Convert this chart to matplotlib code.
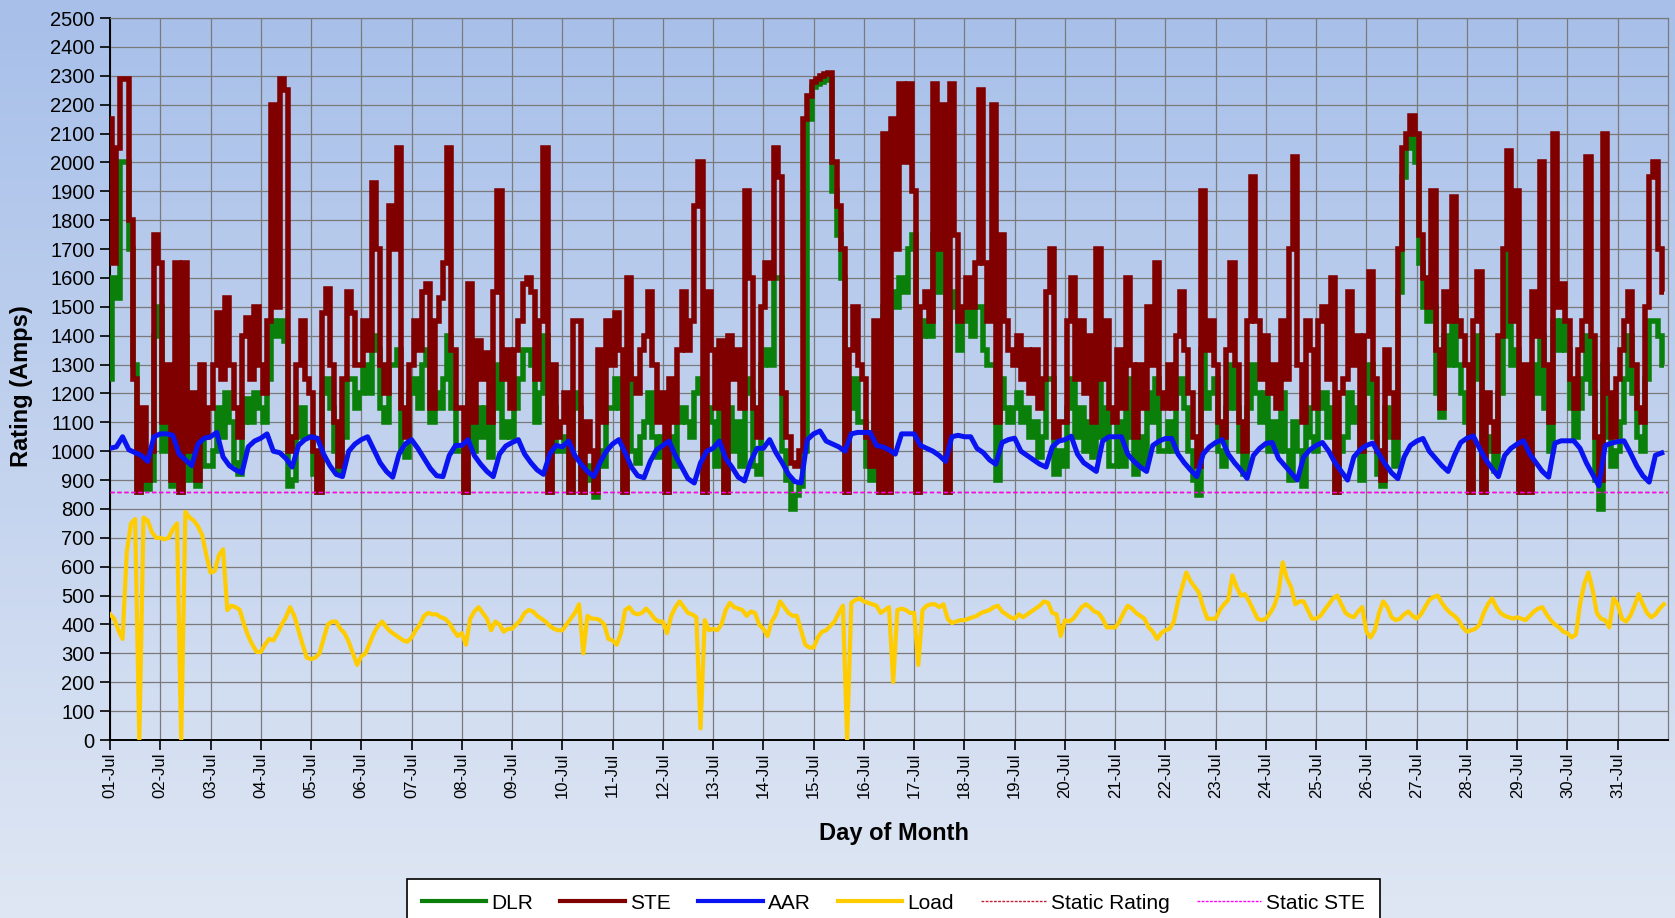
import numpy as np
import matplotlib
matplotlib.use("Agg")
import matplotlib.pyplot as plt
from matplotlib import font_manager
from matplotlib.lines import Line2D

# ---------------- data ----------------
day_labels = [f"{d:02d}-Jul" for d in range(1, 32)]

# STE rating, 2-hour samples (12 per day)
ste = [
    2150, 1650, 2050, 2290, 2290, 1800, 1250, 860, 1150, 900, 1000, 1750,
    1650, 1100, 1300, 900, 1650, 860, 1650, 1000, 1200, 900, 1300, 1050,
    1150, 1300, 1480, 1250, 1530, 1300, 1150, 1050, 1400, 1460, 1250, 1500,
    1300, 1200, 1450, 2200, 1500, 2290, 2250, 1000, 1050, 1300, 1450, 1250,
    1200, 1000, 860, 1480, 1560, 1300, 1100, 950, 1250, 1550, 1480, 1300,
    1300, 1450, 1350, 1930, 1700, 1300, 1200, 1850, 1700, 2050, 1150, 1050,
    1300, 1450, 1350, 1550, 1580, 1150, 1450, 1530, 1650, 2050, 1350, 1150,
    1150, 860, 1580, 1100, 1380, 1250, 1340, 1100, 1550, 1900, 1250, 1350,
    1150, 1350, 1450, 1580, 1600, 1550, 1250, 1450, 2050, 860, 1300, 1050,
    1100, 1200, 860, 1450, 1450, 860, 1100, 1000, 860, 1350, 1100, 1450,
    1300, 1480, 1350, 860, 1600, 1250, 1200, 1350, 1400, 1550, 1300, 1100,
    1200, 860, 1250, 1100, 1350, 1550, 1350, 1450, 1850, 2000, 860, 1550,
    1350, 1150, 1380, 860, 1400, 1250, 1350, 1150, 1900, 1600, 1150, 1050,
    1500, 1650, 1600, 2050, 1950, 1200, 1050, 960, 950, 1000, 2150, 2230,
    2280, 2290, 2300, 2305, 2310, 2000, 1850, 1700, 860, 1350, 1500, 1300,
    1250, 1050, 950, 1450, 860, 2100, 860, 2150, 1700, 2270, 2000, 2270,
    1900, 860, 1500, 1550, 1450, 2270, 1700, 2200, 860, 2270, 1750, 1450,
    1500, 1600, 1500, 1650, 2250, 1650, 1450, 2200, 1100, 1750, 1450, 1350,
    1300, 1400, 1250, 1350, 1200, 1350, 1150, 1250, 1550, 1700, 1050, 1100,
    1100, 1450, 1600, 1250, 1450, 1200, 1400, 1100, 1700, 1250, 1450, 1150,
    1100, 1350, 1150, 1600, 1300, 1050, 1300, 1150, 1500, 1300, 1650, 1200,
    1150, 1300, 1150, 1400, 1550, 1350, 1200, 1050, 950, 1900, 1350, 1450,
    1300, 1100, 1050, 1350, 1650, 1300, 1100, 1000, 1450, 1950, 1450, 1250,
    1400, 1200, 1300, 1150, 1450, 1250, 1700, 2020, 1300, 1100, 1450, 1350,
    1150, 1450, 1500, 1250, 1600, 860, 1200, 1250, 1550, 1300, 1400, 1000,
    1400, 1620, 1250, 1000, 900, 1350, 1200, 1050, 1700, 2050, 2100, 2160,
    2100, 1750, 1600, 1500, 1900, 1350, 1150, 1550, 1450, 1880, 1450, 1400,
    1300, 860, 1450, 1620, 860, 1200, 1100, 1000, 1400, 1700, 2040, 1450,
    1900, 860, 1300, 860, 1550, 1400, 2000, 1300, 1100, 2100, 1500, 1580,
    1450, 1250, 1150, 1350, 1450, 2020, 1400, 1050, 900, 2100, 1200, 1050,
    1250, 1350, 1450, 1550, 1300, 1150, 1100, 1500, 1950, 2000, 1700, 1550,
]

# DLR rating, 2-hour samples (12 per day)
dlr = [
    1250, 1600, 1530, 2000, 2000, 1700, 1300, 860, 950, 870, 900, 1400,
    1500, 1000, 1150, 880, 1300, 860, 1400, 900, 1050, 880, 1150, 950,
    950, 1000, 1150, 1050, 1200, 1100, 960, 920, 1100, 1180, 1100, 1200,
    1150, 1100, 1250, 1450, 1400, 1450, 1380, 880, 900, 1050, 1150, 1050,
    1050, 920, 860, 1200, 1250, 1150, 1000, 920, 1050, 1250, 1250, 1150,
    1200, 1300, 1200, 1400, 1350, 1150, 1100, 1300, 1300, 1350, 1000, 980,
    1200, 1250, 1150, 1300, 1350, 1100, 1200, 1150, 1250, 1400, 1150, 1000,
    1000, 860, 1200, 1000, 1150, 1050, 1150, 980, 1150, 1300, 1050, 1100,
    1050, 1150, 1250, 1350, 1350, 1300, 1100, 1200, 1400, 860, 1150, 1000,
    1000, 1050, 860, 1200, 1150, 860, 950, 900, 840, 1000, 950, 1150,
    1150, 1250, 1150, 860, 1300, 1000, 960, 1050, 1100, 1200, 1050, 980,
    1050, 860, 1050, 950, 1100, 1150, 1100, 1050, 1200, 1250, 860, 1150,
    1100, 950, 1150, 860, 1150, 1000, 1100, 950, 1250, 1200, 950, 920,
    1300, 1350, 1300, 1600, 1600, 1000, 900, 800, 850, 880, 1000, 2150,
    2260, 2270, 2280, 2285, 2290, 1900, 1750, 1600, 860, 1150, 1250, 1100,
    1100, 950, 900, 1200, 860, 1500, 860, 1550, 1500, 1600, 1550, 1700,
    1750, 860, 1400, 1450, 1400, 1750, 1550, 1720, 860, 1550, 1500, 1350,
    1450, 1500, 1400, 1500, 1500, 1350, 1300, 1300, 900, 1250, 1150, 1100,
    1150, 1200, 1100, 1150, 1050, 1100, 980, 1050, 1250, 1250, 920, 1000,
    950, 1150, 1250, 1050, 1150, 1000, 1100, 980, 1300, 1050, 1150, 950,
    950, 1100, 950, 1250, 1050, 920, 1050, 950, 1200, 1100, 1250, 1000,
    1000, 1100, 1000, 1200, 1250, 1150, 1000, 900, 850, 1350, 1150, 1200,
    1250, 1000, 950, 1150, 1300, 1150, 1000, 920, 1150, 1300, 1200, 1100,
    1200, 1000, 1100, 1000, 1200, 1000, 900, 1100, 1000, 880, 1150, 1050,
    1000, 1150, 1200, 1050, 1150, 860, 1000, 1050, 1200, 1100, 1150, 900,
    1200, 1300, 1050, 920, 880, 1150, 1050, 950, 1550, 1950, 2050, 2100,
    2000, 1650, 1500, 1450, 1500, 1200, 1120, 1400, 1300, 1500, 1300, 1200,
    1100, 860, 1250, 1400, 860, 1050, 1000, 930, 1200, 1400, 1700, 1300,
    1350, 860, 1150, 860, 1300, 1200, 1400, 1150, 1000, 1450, 1350, 1450,
    1350, 1150, 1050, 1150, 1250, 1400, 1200, 900, 800, 1300, 1050, 950,
    1000, 1100, 1250, 1400, 1200, 1050, 1000, 1250, 1450, 1450, 1400, 1300,
]

# AAR rating, 3-hour samples (8 per day)
aar = [
    1010, 1015, 1050, 1005, 995, 985, 965, 1050,
    1060, 1060, 1055, 990, 970, 950, 1025, 1045,
    1050, 1065, 980, 950, 935, 925, 1015, 1035,
    1045, 1060, 1000, 995, 975, 945, 1020, 1040,
    1050, 1045, 990, 950, 920, 912, 1000, 1025,
    1040, 1050, 1005, 960, 930, 910, 990, 1025,
    1040, 1010, 975, 940, 915, 912, 985, 1020,
    1020, 1040, 985, 955, 930, 912, 990, 1018,
    1030, 1040, 990, 960, 935, 920, 990, 1020,
    1015, 1035, 985, 955, 930, 912, 960, 1000,
    1025, 1040, 995, 945, 915, 908, 965, 1005,
    1020, 1035, 985, 945, 905, 890, 960, 1000,
    1010, 1035, 975, 945, 910, 897, 965, 1010,
    1010, 1040, 995, 960, 920, 895, 890, 1040,
    1060, 1070, 1035, 1025, 1015, 1000, 1060, 1065,
    1065, 1065, 1020, 1015, 1005, 990, 1060, 1060,
    1060, 1020, 1010, 1000, 985, 965, 1050, 1055,
    1050, 1050, 1010, 995, 970, 955, 1030, 1040,
    1045, 1000, 985, 970, 955, 945, 1015, 1035,
    1040, 1052, 990, 960, 945, 930, 1035, 1050,
    1050, 1050, 990, 965, 945, 930, 1020, 1035,
    1044, 1044, 990, 960, 935, 912, 990, 1015,
    1030, 1040, 990, 960, 935, 906, 985, 1010,
    1027, 1030, 975, 950, 925, 900, 980, 1005,
    1020, 1030, 1000, 960, 930, 900, 980, 1005,
    1020, 1028, 990, 955, 925, 905, 980, 1020,
    1035, 1044, 1000, 975, 950, 930, 985, 1030,
    1045, 1053, 1010, 970, 940, 912, 985, 1010,
    1025, 1036, 990, 960, 930, 910, 1028, 1036,
    1036, 1036, 1010, 960, 920, 880, 1020, 1028,
    1033, 1036, 995, 950, 915, 893, 986, 994,
]

# Load, 2-hour samples (12 per day)
load = [
    435, 420, 380, 350, 650, 750, 765, 0, 770, 760, 720, 700,
    700, 695, 700, 730, 750, 0, 790, 770, 760, 740, 710, 640,
    580, 585, 640, 660, 450, 465, 460, 450, 400, 360, 330, 305,
    305, 330, 350, 345, 370, 400, 425, 460, 430, 380, 330, 285,
    280, 285, 300, 350, 400, 410, 410, 385, 370, 340, 300, 260,
    290, 300, 335, 370, 395, 410, 390, 375, 365, 355, 345, 340,
    355, 380, 400, 430, 440, 435, 435, 425, 420, 405, 380, 360,
    370, 330, 420, 445, 460, 440, 420, 380, 410, 400, 375, 385,
    385, 400, 415, 440, 450, 445, 430, 420, 410, 395, 385, 380,
    380, 400, 420, 440, 470, 300, 430, 420, 420, 415, 400, 350,
    345, 330, 370, 450, 460, 440, 435, 440, 455, 440, 420, 410,
    410, 370, 430, 460, 480, 460, 440, 435, 425, 40, 415, 380,
    385, 380, 400, 450, 475, 460, 455, 450, 430, 445, 440, 400,
    385, 360, 410, 435, 480, 460, 440, 430, 430, 380, 330, 320,
    320, 355, 375, 380, 395, 410, 440, 465, 0, 475, 485, 490,
    480, 475, 470, 465, 440, 450, 460, 200, 450, 455, 450, 440,
    440, 260, 450, 465, 470, 470, 460, 470, 420, 405, 410, 415,
    415, 420, 425, 430, 440, 445, 450, 460, 465, 445, 435, 425,
    420, 435, 425, 435, 445, 455, 465, 480, 475, 440, 435, 360,
    415, 410, 420, 440, 460, 470, 460, 445, 440, 420, 390, 390,
    390, 410, 440, 465, 455, 440, 430, 420, 390, 375, 350, 370,
    380, 385, 410, 480, 530, 580, 550, 530, 510, 460, 420, 420,
    420, 450, 470, 485, 570, 530, 500, 505, 480, 450, 420, 415,
    420, 440, 465, 510, 615, 560, 530, 470, 480, 480, 450, 420,
    420, 430, 450, 470, 490, 500, 470, 440, 430, 425, 445, 460,
    375, 355, 380, 440, 480, 460, 425, 415, 420, 435, 445, 430,
    420, 435, 460, 485, 495, 500, 475, 455, 440, 430, 415, 390,
    375, 380, 385, 400, 440, 470, 490, 460, 440, 430, 425, 420,
    425, 420, 415, 430, 445, 455, 460, 435, 415, 400, 390, 375,
    370, 355, 365, 470, 540, 580, 520, 440, 420, 415, 390, 490,
    470, 420, 410, 430, 465, 505, 470, 440, 425, 435, 455, 470,
]

static_rating = 860
static_ste = 860

# ---------------- fonts ----------------
_names = {f.name for f in font_manager.fontManager.ttflist}
NARROW = "Liberation Sans Narrow" if "Liberation Sans Narrow" in _names else "Liberation Sans"
REG = "Liberation Sans" if "Liberation Sans" in _names else "DejaVu Sans"

# ---------------- figure ----------------
W, H = 1675, 918
fig = plt.figure(figsize=(W / 100, H / 100), dpi=100)

bg = fig.add_axes([0, 0, 1, 1], zorder=-10)
g = np.linspace(0, 1, 256)[:, None, None]
top_c = np.array([0.655, 0.750, 0.915])[None, None, :]
bot_c = np.array([0.875, 0.905, 0.955])[None, None, :]
bg.imshow(top_c * (1 - g) + bot_c * g, aspect="auto", extent=[0, 1, 0, 1])
bg.set_axis_off()

L, R, T, B = 110, 1668, 18, 740
ax = fig.add_axes([L / W, 1 - B / H, (R - L) / W, (B - T) / H])
ax.patch.set_alpha(0)

t_ste = np.arange(len(ste)) / 12.0
t_dlr = np.arange(len(dlr)) / 12.0
t_aar = np.arange(len(aar)) / 8.0
t_load = np.arange(len(load)) / 12.0

c_dlr, c_ste, c_aar, c_load = "#0a800a", "#800000", "#0a14f0", "#ffcc00"
c_sr, c_sste = "#c0203a", "#ff00ff"

ax.plot(t_dlr, dlr, color=c_dlr, lw=4.0, drawstyle="steps-mid",
        solid_joinstyle="miter", solid_capstyle="butt", zorder=3)
ax.plot(t_ste, ste, color=c_ste, lw=4.0, drawstyle="steps-mid",
        solid_joinstyle="miter", solid_capstyle="butt", zorder=4)
ax.plot(t_load, load, color=c_load, lw=3.0, zorder=4)
ax.axhline(static_rating, color=c_sr, lw=1.0, ls=(0, (3, 2)), zorder=5)
ax.axhline(static_ste, color=c_sste, lw=1.0, ls=(0, (3, 2)), zorder=5)
ax.plot(t_aar, aar, color=c_aar, lw=3.6, zorder=6)

ax.set_xlim(0, 31)
ax.set_ylim(0, 2500)
ax.set_xticks(np.arange(len(day_labels)))
ax.set_xticklabels(day_labels, rotation=90, fontfamily=NARROW, fontsize=12)
ax.set_yticks(np.arange(0, 2501, 100))
ax.set_yticklabels([str(v) for v in range(0, 2501, 100)], fontfamily=NARROW, fontsize=14.5)
ax.tick_params(axis="both", direction="out", length=7, width=1.2, color="black")
ax.tick_params(axis="x", pad=2)
ax.tick_params(axis="y", pad=4)

ax.grid(True, color="#7a7a7a", lw=0.9)
ax.set_axisbelow(True)
for s in ("left", "bottom"):
    ax.spines[s].set_color("black")
    ax.spines[s].set_linewidth(1.4)
for s in ("top", "right"):
    ax.spines[s].set_color("#7a7a7a")
    ax.spines[s].set_linewidth(0.9)

ax.set_ylabel("Rating (Amps)", fontfamily=REG, fontsize=17, fontweight="bold")
ax.yaxis.set_label_coords((33 - L) / (R - L), 0.49)
ax.set_xlabel("Day of Month", fontfamily=REG, fontsize=17, fontweight="bold")
ax.xaxis.set_label_coords((894 - L) / (R - L), -(822 - B) / (B - T))

handles = [
    Line2D([], [], color=c_dlr, lw=3.0),
    Line2D([], [], color=c_ste, lw=3.0),
    Line2D([], [], color=c_aar, lw=3.0),
    Line2D([], [], color=c_load, lw=3.0),
    Line2D([], [], color=c_sr, lw=1.0, ls=(0, (2, 1))),
    Line2D([], [], color=c_sste, lw=1.0, ls=(0, (2, 1))),
]
labels = ["DLR", "STE", "AAR", "Load", "Static Rating", "Static STE"]
leg = fig.legend(handles, labels, loc="upper left", bbox_to_anchor=(407 / W, 1 - 879 / H),
                 borderaxespad=0.0, ncol=6, frameon=True, fancybox=False, edgecolor="black",
                 facecolor="white", framealpha=1.0, handlelength=3.1, handletextpad=0.25,
                 columnspacing=1.3, borderpad=0.7, prop={"family": NARROW, "size": 15})
leg.get_frame().set_linewidth(1.2)

fig.savefig("out.png", dpi=100)
